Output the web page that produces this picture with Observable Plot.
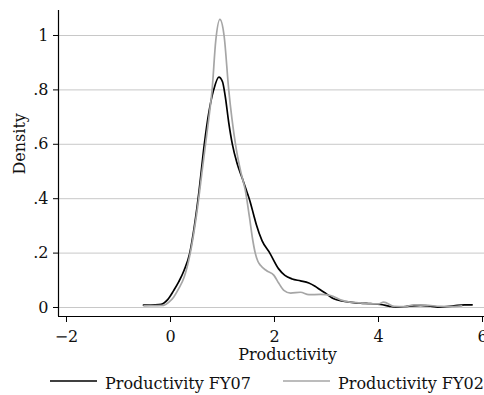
<!DOCTYPE html>
<html>
<head>
<meta charset="utf-8">
<script src="https://cdn.jsdelivr.net/npm/d3@7"></script>
<script src="https://cdn.jsdelivr.net/npm/@observablehq/plot@0.6"></script>
<style>
  html, body { margin: 0; padding: 0; background: #fff; }
  #wrap { width: 484px; height: 395px; overflow: hidden; position: relative; background: #fff; font-family: "DejaVu Serif", serif; }
  #chart { width: 516px; }
  #chart svg { max-width: none !important; display: block; }
  #legend { position: absolute; top: 368px; left: 0; width: 484px; height: 27px; font-size: 16px; color: #111; }
  .item { position: absolute; top: 0; height: 27px; white-space: nowrap; }
  .item svg { position: absolute; left: 0; top: 0; }
  .item span { position: absolute; left: 55px; top: 8px; line-height: 16px; }
</style>
</head>
<body>
<div id="wrap">
  <div id="chart"></div>
  <div id="legend"></div>
</div>
<script>
// Series names and colours
const seriesNames = ["Productivity FY07", "Productivity FY02"];
const seriesColors = ["#000000", "#a6a6a6"];

// Productivity FY07 (black) kernel density
const xFY07 = [-0.52, -0.3, -0.18, -0.05, 0.06, 0.16, 0.26, 0.37, 0.46, 0.55, 0.65, 0.74, 0.83, 0.93, 1.0, 1.05, 1.12, 1.19, 1.28, 1.38, 1.47, 1.53, 1.6, 1.65, 1.76, 1.91, 2.08, 2.2, 2.34, 2.5, 2.66, 2.78, 2.88, 3.0, 3.14, 3.3, 3.45, 3.65, 3.85, 4.04, 4.2, 4.33, 4.55, 4.81, 5.0, 5.19, 5.45, 5.65, 5.8];
const dFY07 = [0.009, 0.01, 0.012, 0.03, 0.062, 0.095, 0.136, 0.2, 0.3, 0.43, 0.6, 0.72, 0.8, 0.847, 0.83, 0.78, 0.68, 0.6, 0.53, 0.475, 0.425, 0.39, 0.34, 0.305, 0.246, 0.2, 0.142, 0.118, 0.105, 0.098, 0.09, 0.078, 0.065, 0.05, 0.032, 0.024, 0.02, 0.016, 0.014, 0.011, 0.005, 0.001, 0.004, 0.008, 0.005, 0.001, 0.006, 0.01, 0.01];

// Productivity FY02 (grey) kernel density
const xFY02 = [-0.51, -0.3, -0.13, -0.03, 0.06, 0.16, 0.26, 0.38, 0.5, 0.62, 0.74, 0.8, 0.87, 0.95, 1.03, 1.12, 1.25, 1.35, 1.44, 1.52, 1.58, 1.63, 1.68, 1.73, 1.85, 1.99, 2.08, 2.18, 2.31, 2.5, 2.66, 2.88, 3.08, 3.27, 3.45, 3.65, 3.85, 4.0, 4.1, 4.3, 4.5, 4.68, 4.9, 5.2, 5.45, 5.6];
const dFY02 = [0.006, 0.007, 0.008, 0.02, 0.038, 0.07, 0.11, 0.2, 0.34, 0.52, 0.7, 0.8, 0.98, 1.059, 1.0, 0.8, 0.6, 0.5, 0.43, 0.33, 0.25, 0.2, 0.17, 0.155, 0.135, 0.118, 0.09, 0.063, 0.053, 0.056, 0.047, 0.048, 0.044, 0.028, 0.02, 0.017, 0.013, 0.013, 0.02, 0.004, 0.003, 0.01, 0.009, 0.004, 0.003, 0.006];

// Axis ticks and labels
const xTicks = [-2, 0, 2, 4, 6];
const yTicks = [0, 0.2, 0.4, 0.6, 0.8, 1];
const yTickLabels = ["0", ".2", ".4", ".6", ".8", "1"];
const xTitle = "Productivity";
const yTitle = "Density";

const fy07 = xFY07.map((x, i) => ({x, d: dFY07[i]}));
const fy02 = xFY02.map((x, i) => ({x, d: dFY02[i]}));

const xDomain = [-2.1538, 6.6538];
const yDomain = [-0.0331, 1.0919];

const chart = Plot.plot({
  width: 516,
  height: 368,
  marginLeft: 58,
  marginRight: 0,
  marginTop: 10,
  marginBottom: 52,
  x: {domain: xDomain},
  y: {domain: yDomain},
  style: {fontFamily: "DejaVu Serif", fontSize: "16px", background: "white", color: "#111", overflow: "visible", maxWidth: "none"},
  marks: [
    Plot.gridY(yTicks, {stroke: "#c8c8c8", strokeOpacity: 1, strokeWidth: 1}),
    Plot.ruleX([xDomain[0]], {stroke: "#000", strokeWidth: 1.2}),
    Plot.ruleY([yDomain[0]], {stroke: "#000", strokeWidth: 1.2}),
    Plot.axisY(yTicks, {tickSize: 5, tickPadding: 5, tickFormat: d => yTickLabels[yTicks.indexOf(d)], label: null, fontSize: 16, stroke: "#000"}),
    Plot.axisX(xTicks, {tickSize: 6, tickPadding: 8, label: null, fontSize: 16, stroke: "#000"}),
    Plot.line(fy07, {x: "x", y: "d", stroke: seriesColors[0], strokeWidth: 1.7, curve: "monotone-x"}),
    Plot.line(fy02, {x: "x", y: "d", stroke: seriesColors[1], strokeWidth: 1.7, curve: "monotone-x"}),
    Plot.text([xTitle], {frameAnchor: "bottom", dy: 43, fontSize: 16, fill: "#111"}),
    Plot.text([yTitle], {frameAnchor: "left", rotate: -90, dx: -39, dy: 11, fontSize: 16, fill: "#111"})
  ]
});
document.getElementById("chart").appendChild(chart);

// Legend
const legendLeft = [50, 283];
const legend = d3.select("#legend");
seriesNames.forEach((name, i) => {
  const item = legend.append("div").attr("class", "item").style("left", legendLeft[i] + "px");
  const svg = item.append("svg").attr("width", 48).attr("height", 27);
  svg.append("line").attr("x1", 0).attr("x2", 47).attr("y1", 13).attr("y2", 13)
    .attr("stroke", seriesColors[i]).attr("stroke-width", 1.7);
  item.append("span").text(name);
});
</script>
</body>
</html>
